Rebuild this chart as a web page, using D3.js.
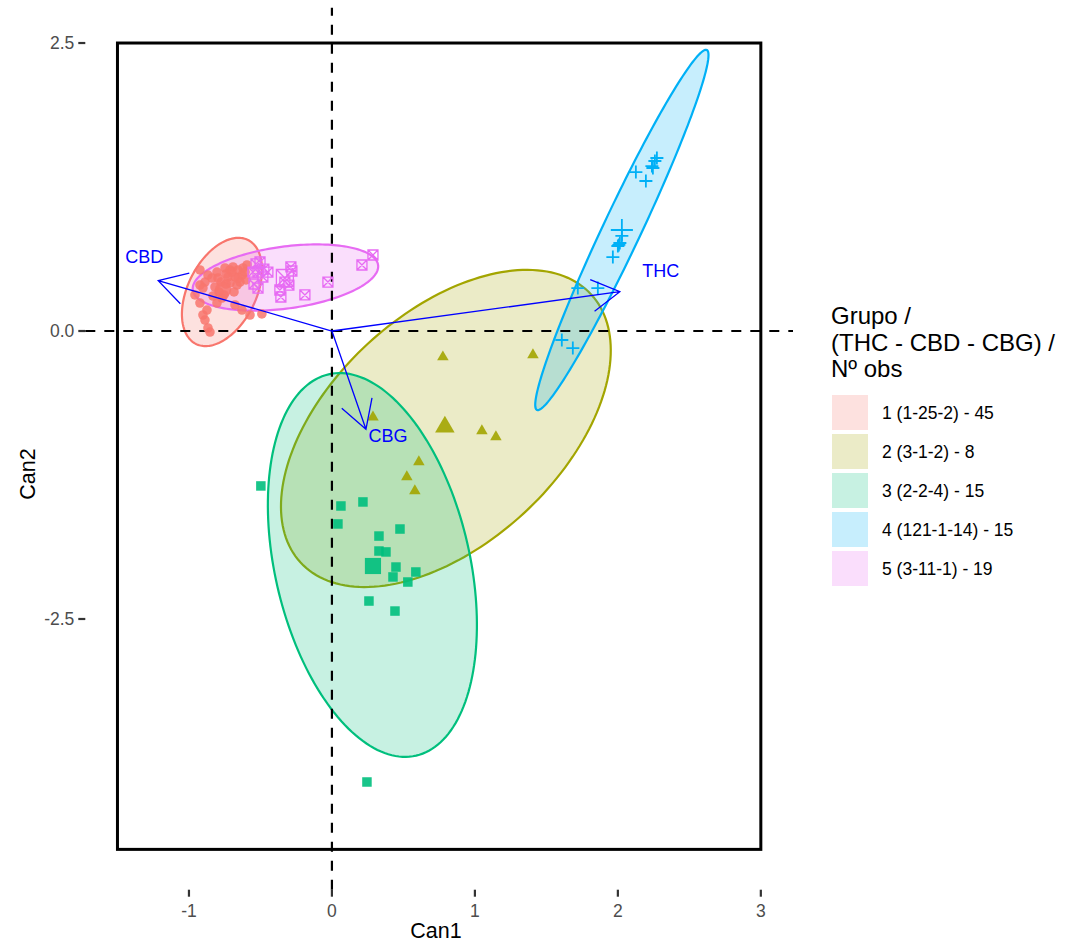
<!DOCTYPE html>
<html>
<head>
<meta charset="utf-8">
<script src="https://cdn.jsdelivr.net/npm/d3@7"></script>
<style>
  body { margin: 0; background: #ffffff; }
  text { font-family: "Liberation Sans", Arial, Helvetica, sans-serif; }
</style>
</head>
<body>
<svg id="chart" width="1066" height="944"></svg>
<script>
// ---- Groups ---------------------------------------------------------------
const groupLabels = ["1 (1-25-2) - 45", "2 (3-1-2) - 8", "3 (2-2-4) - 15", "4 (121-1-14) - 15", "5 (3-11-1) - 19"];
const groupColors = ["#F8766D", "#A3A500", "#00BF7D", "#00B0F6", "#E76BF3"];
const legendTitle = ["Grupo /", "(THC - CBD - CBG) /", "N\u00BA obs"];

// ---- Canonical scores per group (Can1, Can2) ------------------------------
const g1Can1 = [-0.923, -0.867, -0.804, -0.797, -0.748, -0.713, -0.692, -0.657, -0.622, -0.594,
                -0.727, -0.678, -0.629, -0.643, -0.664, -0.713, -0.818, -0.888, -0.923, -0.958,
                -0.923, -0.804, -0.769, -0.902, -0.888, -0.867, -0.853, -0.678, -0.629, -0.573,
                -0.490, -0.741, -0.699, -0.776, -0.839, -0.608, -0.657, -0.741, -0.790, -0.755,
                -0.902, -0.685, -0.874, -0.601, -0.832];
const g1Can2 = [0.530, 0.486, 0.512, 0.460, 0.547, 0.530, 0.556, 0.530, 0.547, 0.573,
                0.469, 0.469, 0.486, 0.425, 0.399, 0.417, 0.382, 0.425, 0.399, 0.313,
                0.243, 0.243, 0.286, 0.139, 0.095, 0.026, -0.009, 0.226, 0.182, 0.139,
                0.148, 0.495, 0.512, 0.425, 0.460, 0.512, 0.460, 0.408, 0.339, 0.313,
                0.373, 0.339, 0.182, 0.443, 0.304];

const g2Can1 = [0.776, 1.406, 0.287, 1.049, 1.147, 0.608, 0.524, 0.580];
const g2Can2 = [-0.226, -0.208, -0.747, -0.868, -0.920, -1.137, -1.267, -1.389];

const g3Can1 = [-0.497, 0.063, 0.217, 0.042, 0.329, 0.476, 0.329, 0.378, 0.448, 0.587,
                0.427, 0.531, 0.259, 0.441, 0.245];
const g3Can2 = [-1.345, -1.519, -1.484, -1.675, -1.780, -1.719, -1.910, -1.918, -2.049, -2.092,
                -2.135, -2.179, -2.344, -2.431, -3.915];

const g4Can1 = [2.273, 2.259, 2.238, 2.245, 2.126, 2.196, 2.014, 2.000, 2.007, 1.965,
                1.720, 1.860, 1.608, 1.685, 2.028];
const g4Can2 = [1.502, 1.476, 1.432, 1.415, 1.380, 1.302, 0.764, 0.738, 0.747, 0.642,
                0.373, 0.373, -0.078, -0.148, 0.825];

const g5Can1 = [-0.552, -0.531, -0.503, -0.517, -0.448, -0.476, -0.545, -0.517, -0.329, -0.287,
                -0.280, -0.364, -0.357, -0.189, -0.028, 0.210, 0.287, -0.301, -0.483];
const g5Can2 = [0.512, 0.582, 0.599, 0.512, 0.512, 0.538, 0.408, 0.373, 0.425, 0.556,
                0.521, 0.356, 0.295, 0.313, 0.425, 0.573, 0.660, 0.399, 0.469];

// Group means
const centroidCan1 = [-0.762, 0.790, 0.287, 2.028, -0.329];
const centroidCan2 = [0.356, -0.833, -2.040, 0.877, 0.460];

// Data ellipses: centre and two conjugate semi-axes (Can1, Can2 components)
const ellipseCan1 = [-0.769, 0.797, 0.283, 2.028, -0.325];
const ellipseCan2 = [0.339, -0.846, -2.031, 0.877, 0.464];
const ellipseAxisA = [[0.182, 0.451], [1.016, 1.164], [0.306, -1.655], [0.594, 1.5625], [0.648, 0.1085]];
const ellipseAxisB = [[0.213, -0.132], [0.546, -0.735], [0.664, 0.189], [0.120, -0.070], [0.029, -0.2665]];

// Structure vectors of the response variables
const varNames = ["THC", "CBD", "CBG"];
const varCan1 = [2.014, -1.215, 0.238];
const varCan2 = [0.341, 0.437, -0.853];

// Frame drawn around the scores
const frameCan1 = [-1.5, 3];
const frameCan2 = [-4.5, 2.5];

// Axis ticks
const xTicks = [-1, 0, 1, 2, 3];
const xTickLabels = ["-1", "0", "1", "2", "3"];
const yTicks = [-2.5, 0, 2.5];
const yTickLabels = ["-2.5", "0.0", "2.5"];

// ---- Layout ---------------------------------------------------------------
const svg = d3.select("#chart");
const panel = { left: 85.3, right: 793, top: 2.7, bottom: 889.7 };

const x = d3.scaleLinear().domain([-1.725, 3.225]).range([panel.left, panel.right]);
const y = d3.scaleLinear().domain([-4.85, 2.85]).range([panel.bottom, panel.top]);

const groups = [
  { xs: g1Can1, ys: g1Can2, shape: "circle" },
  { xs: g2Can1, ys: g2Can2, shape: "triangle" },
  { xs: g3Can1, ys: g3Can2, shape: "square" },
  { xs: g4Can1, ys: g4Can2, shape: "plus" },
  { xs: g5Can1, ys: g5Can2, shape: "boxcross" }
];

// ---- Ellipses ---------------------------------------------------------------
const ellLine = d3.line().curve(d3.curveLinearClosed);
const ellG = svg.append("g");
groupColors.forEach((col, i) => {
  const pts = d3.range(0, 2 * Math.PI, Math.PI / 90).map(t => {
    const a = ellipseAxisA[i], b = ellipseAxisB[i];
    return [
      x(ellipseCan1[i] + Math.cos(t) * a[0] + Math.sin(t) * b[0]),
      y(ellipseCan2[i] + Math.cos(t) * a[1] + Math.sin(t) * b[1])
    ];
  });
  ellG.append("path")
    .attr("d", ellLine(pts))
    .attr("fill", col).attr("fill-opacity", 0.22)
    .attr("stroke", col).attr("stroke-width", 2.2);
});

// ---- Reference lines at the origin ------------------------------------------
svg.append("line")
  .attr("x1", x.range()[0]).attr("x2", x.range()[1])
  .attr("y1", y(0)).attr("y2", y(0))
  .attr("stroke", "#000").attr("stroke-width", 2.2).attr("stroke-dasharray", "10,9");
svg.append("line")
  .attr("x1", x(0)).attr("x2", x(0))
  .attr("y1", y.range()[0]).attr("y2", y.range()[1] + 5)
  .attr("stroke", "#000").attr("stroke-width", 2.2).attr("stroke-dasharray", "10,9");

// ---- Frame ------------------------------------------------------------------
svg.append("rect")
  .attr("x", x(frameCan1[0])).attr("y", y(frameCan2[1]))
  .attr("width", x(frameCan1[1]) - x(frameCan1[0]))
  .attr("height", y(frameCan2[0]) - y(frameCan2[1]))
  .attr("fill", "none").attr("stroke", "#000").attr("stroke-width", 3);

// ---- Point symbols ------------------------------------------------------------
function drawSymbol(g, shape, cx, cy, col, big) {
  const k = big ? 1.7 : 1;
  if (shape === "circle") {
    g.append("circle").attr("cx", cx).attr("cy", cy).attr("r", 4.8 * k)
      .attr("fill", col).attr("fill-opacity", 0.85);
  } else if (shape === "triangle") {
    const s = 11.5 * k, h = s * Math.sqrt(3) / 2;
    g.append("path")
      .attr("d", `M${cx},${cy - 2 * h / 3}L${cx + s / 2},${cy + h / 3}L${cx - s / 2},${cy + h / 3}Z`)
      .attr("fill", col).attr("fill-opacity", 0.9);
  } else if (shape === "square") {
    const s = 9.5 * k;
    g.append("rect").attr("x", cx - s / 2).attr("y", cy - s / 2).attr("width", s).attr("height", s)
      .attr("fill", col).attr("fill-opacity", 0.9);
  } else if (shape === "plus") {
    const s = 6.5 * k;
    g.append("path")
      .attr("d", `M${cx - s},${cy}H${cx + s}M${cx},${cy - s}V${cy + s}`)
      .attr("stroke", col).attr("stroke-width", 1.8).attr("fill", "none");
  } else if (shape === "boxcross") {
    const s = 5 * k;
    g.append("path")
      .attr("d", `M${cx - s},${cy - s}H${cx + s}V${cy + s}H${cx - s}Z` +
                 `M${cx - s},${cy - s}L${cx + s},${cy + s}M${cx + s},${cy - s}L${cx - s},${cy + s}`)
      .attr("stroke", col).attr("stroke-width", 1.3).attr("fill", "none");
  }
}

const ptG = svg.append("g");
groups.forEach((grp, i) => {
  grp.xs.forEach((v, j) => drawSymbol(ptG, grp.shape, x(v), y(grp.ys[j]), groupColors[i], false));
  drawSymbol(ptG, grp.shape, x(centroidCan1[i]), y(centroidCan2[i]), groupColors[i], true);
});

// ---- Variable vectors -----------------------------------------------------------
const arrG = svg.append("g");
const headLen = 32, headAng = Math.PI / 6;
const labelOffset = [[41, -21], [-14, -24], [22, 7]];
varNames.forEach((name, i) => {
  const x0 = x(0), y0 = y(0), x1 = x(varCan1[i]), y1 = y(varCan2[i]);
  const th = Math.atan2(y1 - y0, x1 - x0);
  const w1 = [x1 - headLen * Math.cos(th - headAng), y1 - headLen * Math.sin(th - headAng)];
  const w2 = [x1 - headLen * Math.cos(th + headAng), y1 - headLen * Math.sin(th + headAng)];
  arrG.append("path")
    .attr("d", `M${x0},${y0}L${x1},${y1}M${w1[0]},${w1[1]}L${x1},${y1}L${w2[0]},${w2[1]}`)
    .attr("stroke", "#0000FF").attr("stroke-width", 1.3).attr("fill", "none");
  arrG.append("text")
    .attr("x", x1 + labelOffset[i][0]).attr("y", y1 + labelOffset[i][1])
    .attr("text-anchor", "middle").attr("dominant-baseline", "central")
    .attr("font-size", 18).attr("fill", "#0000FF")
    .text(name);
});

// ---- Axes -----------------------------------------------------------------------
const tickLen = 7;
const axG = svg.append("g");
xTicks.forEach((t, i) => {
  axG.append("line").attr("x1", x(t)).attr("x2", x(t))
    .attr("y1", panel.bottom).attr("y2", panel.bottom + tickLen)
    .attr("stroke", "#333").attr("stroke-width", 2.2);
  axG.append("text").attr("x", x(t)).attr("y", panel.bottom + tickLen + 20)
    .attr("text-anchor", "middle").attr("font-size", 17.5).attr("fill", "#4D4D4D")
    .text(xTickLabels[i]);
});
yTicks.forEach((t, i) => {
  axG.append("line").attr("x1", panel.left - tickLen).attr("x2", panel.left)
    .attr("y1", y(t)).attr("y2", y(t))
    .attr("stroke", "#333").attr("stroke-width", 2.2);
  axG.append("text").attr("x", panel.left - tickLen - 4).attr("y", y(t))
    .attr("text-anchor", "end").attr("dominant-baseline", "central")
    .attr("font-size", 17.5).attr("fill", "#4D4D4D")
    .text(yTickLabels[i]);
});
axG.append("text")
  .attr("x", 436).attr("y", 938)
  .attr("text-anchor", "middle").attr("font-size", 21.5).attr("fill", "#000")
  .text("Can1");
axG.append("text")
  .attr("transform", "translate(35,474) rotate(-90)")
  .attr("text-anchor", "middle").attr("font-size", 21.5).attr("fill", "#000")
  .text("Can2");

// ---- Legend ---------------------------------------------------------------------
const lg = svg.append("g").attr("transform", "translate(831,0)");
legendTitle.forEach((line, i) => {
  lg.append("text").attr("x", 0).attr("y", 324 + i * 26.5)
    .attr("font-size", 24).attr("fill", "#000").text(line);
});
groupLabels.forEach((lab, i) => {
  const top = 395 + i * 39;
  lg.append("rect").attr("x", 1).attr("y", top).attr("width", 36).attr("height", 35)
    .attr("fill", groupColors[i]).attr("fill-opacity", 0.22);
  lg.append("text").attr("x", 51).attr("y", top + 17.5)
    .attr("dominant-baseline", "central").attr("font-size", 17.5).attr("fill", "#000")
    .text(lab);
});
</script>
</body>
</html>
